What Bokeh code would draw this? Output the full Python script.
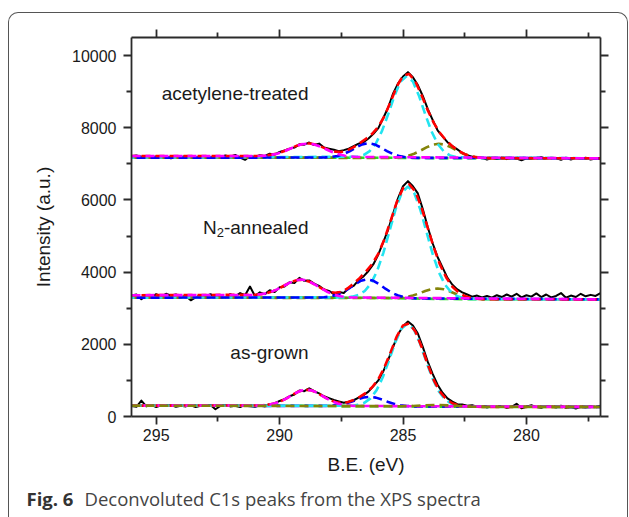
from bokeh.plotting import figure
from bokeh.models import Range1d, LinearAxis, FixedTicker, Label, InlineStyleSheet
from bokeh.core.properties import value
from bokeh.embed import file_html
from bokeh.resources import INLINE

# ---------------- axes ----------------
x_ticks = [295, 290, 285, 280]
x_minor = [292.5, 287.5, 282.5, 277.5]
y_ticks = [0, 2000, 4000, 6000, 8000, 10000]
y_minor = [1000, 3000, 5000, 7000, 9000]

labels = ["acetylene-treated", "N", "2", "-annealed", "as-grown"]
caption_bold = "Fig. 6"
caption_text = "Deconvoluted C1s peaks from the XPS spectra"

# ---------------- measured spectra (black) ----------------
be = [296.0, 295.8, 295.6, 295.4, 295.2, 295.0, 294.8, 294.6, 294.4, 294.2,
      294.0, 293.8, 293.6, 293.4, 293.2, 293.0, 292.8, 292.6, 292.4, 292.2,
      292.0, 291.8, 291.6, 291.4, 291.2, 291.0, 290.8, 290.6, 290.4, 290.2,
      290.0, 289.8, 289.6, 289.4, 289.2, 289.0, 288.8, 288.6, 288.4, 288.2,
      288.0, 287.8, 287.6, 287.4, 287.2, 287.0, 286.8, 286.6, 286.4, 286.2,
      286.0, 285.8, 285.6, 285.4, 285.2, 285.0, 284.8, 284.6, 284.4, 284.2,
      284.0, 283.8, 283.6, 283.4, 283.2, 283.0, 282.8, 282.6, 282.4, 282.2,
      282.0, 281.8, 281.6, 281.4, 281.2, 281.0, 280.8, 280.6, 280.4, 280.2,
      280.0, 279.8, 279.6, 279.4, 279.2, 279.0, 278.8, 278.6, 278.4, 278.2,
      278.0, 277.8, 277.6, 277.4, 277.2, 277.0]

ac_data = [7210, 7230, 7195, 7220, 7185, 7205, 7170, 7215, 7150, 7205,
           7180, 7215, 7170, 7190, 7165, 7200, 7175, 7210, 7180, 7230,
           7195, 7245, 7170, 7110, 7215, 7190, 7240, 7220, 7280, 7255,
           7330, 7370, 7420, 7450, 7540, 7530, 7590, 7520, 7560, 7450,
           7420, 7390, 7350, 7380, 7420, 7490, 7560, 7600, 7700, 7830,
           7990, 8270, 8560, 8950, 9230, 9420, 9540, 9400, 9180, 8880,
           8520, 8220, 7930, 7760, 7600, 7490, 7400, 7300, 7240, 7200,
           7160, 7175, 7120, 7160, 7135, 7170, 7130, 7165, 7145, 7100,
           7150, 7140, 7165, 7185, 7145, 7170, 7160, 7110, 7170, 7120,
           7160, 7135, 7170, 7120, 7150, 7160]

n2_data = [3350, 3380, 3250, 3340, 3300, 3390, 3330, 3400, 3350, 3380,
           3310, 3340, 3220, 3300, 3360, 3330, 3390, 3300, 3350, 3280,
           3390, 3330, 3420, 3360, 3600, 3340, 3440, 3390, 3500, 3450,
           3580, 3600, 3720, 3700, 3840, 3760, 3770, 3680, 3620, 3520,
           3480, 3390, 3450, 3420, 3560, 3620, 3780, 3880, 4030, 4220,
           4490, 4830, 5180, 5620, 6050, 6380, 6520, 6380, 6180, 5750,
           5250, 4800, 4420, 4130, 3840, 3650, 3520, 3440, 3380, 3320,
           3350, 3300, 3340, 3290, 3360, 3310, 3380, 3320, 3400, 3300,
           3360, 3320, 3410, 3310, 3380, 3300, 3340, 3420, 3290, 3350,
           3310, 3400, 3330, 3370, 3340, 3420]

ag_data = [290, 270, 440, 280, 320, 260, 310, 290, 320, 270,
           300, 280, 310, 260, 300, 290, 320, 200, 290, 310,
           280, 300, 260, 320, 290, 270, 310, 280, 340, 360,
           430, 480, 560, 610, 720, 700, 780, 700, 640, 560,
           510, 460, 420, 380, 410, 450, 520, 590, 690, 840,
           1000, 1250, 1570, 1930, 2280, 2500, 2630, 2520, 2300, 1930,
           1520, 1180, 880, 660, 500, 410, 340, 330, 300, 310,
           270, 290, 250, 280, 260, 290, 240, 270, 350, 230,
           270, 310, 260, 240, 290, 280, 250, 300, 240, 260,
           220, 270, 250, 290, 260, 300]

# ---------------- fitted curves (dashed) ----------------
bg_x = [296, 290, 288, 286.5, 285.5, 284.5, 283.5, 282, 277]
red_x = [296, 291.0, 290.75, 290.5, 290.25, 290.0, 289.75, 289.5, 289.25, 289.0,
         288.75, 288.5, 288.25, 288.0, 287.75, 287.5, 287.25, 287.0, 286.75, 286.5,
         286.25, 286.0, 285.75, 285.5, 285.25, 285.0, 284.75, 284.5, 284.25, 284.0,
         283.75, 283.5, 283.25, 283.0, 282.75, 282.5, 282.25, 282.0, 281.75, 281.5, 277]

# acetylene-treated
ac_green_y = [7172, 7172, 7171, 7170, 7167, 7162, 7158, 7155, 7152]
ac_mag_x = [296, 290.85, 290.6, 290.35, 290.1, 289.85, 289.6, 289.35, 289.1, 288.85,
            288.6, 288.35, 288.1, 287.85, 287.6, 287.35, 287.1, 286.85, 277]
ac_mag_y = [7215, 7218, 7227, 7246, 7282, 7338, 7410, 7485, 7543, 7563,
            7538, 7476, 7398, 7322, 7263, 7224, 7202, 7190, 7152]
ac_blue_x = [296, 288.4, 288.15, 287.9, 287.65, 287.4, 287.15, 286.9, 286.65, 286.4,
             286.15, 285.9, 285.65, 285.4, 285.15, 284.9, 284.65, 284.4, 277]
ac_blue_y = [7172, 7174, 7178, 7190, 7218, 7272, 7355, 7455, 7539, 7572,
             7538, 7453, 7352, 7268, 7213, 7184, 7171, 7166, 7152]
ac_cyan_x = [296, 286.85, 286.6, 286.35, 286.1, 285.85, 285.6, 285.35, 285.1, 284.85,
             284.6, 284.35, 284.1, 283.85, 283.6, 283.35, 283.1, 282.85, 277]
ac_cyan_y = [7172, 7196, 7243, 7354, 7564, 7913, 8377, 8882, 9281, 9432,
             9279, 8878, 8372, 7906, 7556, 7345, 7233, 7185, 7152]
ac_olive_x = [296, 285.55, 285.3, 285.05, 284.8, 284.55, 284.3, 284.05, 283.8, 283.55,
              283.3, 283.05, 282.8, 282.55, 282.3, 282.05, 281.8, 281.55, 277]
ac_olive_y = [7172, 7165, 7172, 7188, 7222, 7280, 7363, 7455, 7529, 7557,
              7529, 7455, 7363, 7279, 7220, 7185, 7168, 7161, 7152]
ac_red_y = [7215, 7216, 7222, 7235, 7262, 7305, 7369, 7446, 7518, 7563,
            7564, 7526, 7457, 7386, 7337, 7329, 7373, 7461, 7575, 7694,
            7832, 8025, 8323, 8723, 9147, 9438, 9490, 9280, 8903, 8487,
            8128, 7853, 7646, 7485, 7360, 7268, 7209, 7178, 7164, 7158, 7152]

# N2-annealed
n2_green_y = [3294, 3294, 3294, 3288, 3280, 3268, 3257, 3249, 3245]
n2_mag_x = [296, 291.1, 290.85, 290.6, 290.35, 290.1, 289.85, 289.6, 289.35, 289.1,
            288.85, 288.6, 288.35, 288.1, 287.85, 287.6, 287.35, 287.1, 277]
n2_mag_y = [3360, 3368, 3380, 3405, 3450, 3521, 3611, 3704, 3774, 3795,
            3756, 3669, 3563, 3464, 3388, 3339, 3312, 3298, 3245]
n2_blue_x = [296, 288.45, 288.2, 287.95, 287.7, 287.45, 287.2, 286.95, 286.7, 286.45,
             286.2, 285.95, 285.7, 285.45, 285.2, 284.95, 284.7, 284.45, 277]
n2_blue_y = [3294, 3297, 3305, 3323, 3364, 3437, 3542, 3663, 3761, 3799,
             3759, 3658, 3534, 3427, 3352, 3306, 3283, 3272, 3245]
n2_cyan_x = [296, 287.3, 287.05, 286.8, 286.55, 286.3, 286.05, 285.8, 285.55, 285.3,
             285.05, 284.8, 284.55, 284.3, 284.05, 283.8, 283.55, 283.3, 283.05, 282.8,
             282.55, 282.3, 277]
n2_cyan_y = [3294, 3300, 3320, 3369, 3477, 3684, 4029, 4527, 5135, 5746,
             6204, 6372, 6198, 5734, 5117, 4504, 4001, 3652, 3441, 3331,
             3280, 3259, 3245]
n2_olive_x = [296, 285.6, 285.35, 285.1, 284.85, 284.6, 284.35, 284.1, 283.85, 283.6,
              283.35, 283.1, 282.85, 282.6, 282.35, 282.1, 281.85, 281.6, 277]
n2_olive_y = [3294, 3283, 3285, 3293, 3314, 3352, 3409, 3475, 3528, 3547,
              3523, 3465, 3394, 3332, 3290, 3266, 3255, 3251, 3245]
n2_red_y = [3360, 3372, 3389, 3424, 3478, 3556, 3650, 3736, 3788, 3783,
            3724, 3631, 3531, 3456, 3427, 3453, 3546, 3680, 3840, 4017,
            4226, 4512, 4918, 5426, 5946, 6325, 6433, 6232, 5787, 5227,
            4674, 4206, 3850, 3596, 3435, 3338, 3286, 3261, 3253, 3249, 3245]

# as-grown
ag_green_y = [300, 300, 290, 286, 283, 277, 272, 268, 265]
ag_mag_x = [296, 290.9, 290.65, 290.4, 290.15, 289.9, 289.65, 289.4, 289.15, 288.9,
            288.65, 288.4, 288.15, 287.9, 287.65, 287.4, 287.15, 286.9, 277]
ag_mag_y = [302, 306, 314, 333, 372, 438, 530, 633, 714, 745,
            712, 628, 522, 428, 361, 320, 300, 292, 265]
ag_blue_x = [296, 288.35, 288.1, 287.85, 287.6, 287.35, 287.1, 286.85, 286.6, 286.35,
             286.1, 285.85, 285.6, 285.35, 285.1, 284.85, 284.6, 284.35, 277]
ag_blue_y = [300, 293, 295, 301, 319, 354, 407, 471, 525, 546,
             523, 468, 402, 347, 311, 291, 282, 278, 265]
ag_cyan_x = [296, 287.07, 286.82, 286.57, 286.32, 286.07, 285.82, 285.57, 285.32, 285.07,
             284.82, 284.57, 284.32, 284.07, 283.82, 283.57, 283.32, 283.07, 282.82, 282.57, 277]
ag_cyan_y = [300, 299, 321, 378, 502, 730, 1087, 1554, 2046, 2428,
             2574, 2426, 2041, 1546, 1077, 718, 488, 362, 303, 279, 265]
ag_olive_x = [296, 285.1, 284.6, 284.1, 283.6, 283.1, 282.6, 282.1, 277]
ag_olive_y = [302, 285, 293, 312, 323, 307, 283, 272, 265]
ag_red_y = [302, 304, 310, 324, 353, 408, 490, 592, 686, 740,
            732, 665, 566, 468, 401, 374, 395, 455, 543, 657,
            810, 1036, 1368, 1790, 2222, 2524, 2577, 2356, 1932, 1441,
            1003, 680, 478, 367, 312, 286, 275, 270, 268, 268, 265]

# ---------------- figure ----------------
FONT = "Liberation Sans"
AX_COLOR = "#2b2b2b"

p = figure(frame_width=469, frame_height=379,
           min_border_left=131, min_border_right=29,
           min_border_top=37, min_border_bottom=101,
           x_range=Range1d(296, 277), y_range=Range1d(0, 10500),
           x_axis_location=None, y_axis_location=None,
           output_backend="svg", toolbar_location=None)
p.outline_line_color = None
p.xgrid.visible = False
p.ygrid.visible = False
p.background_fill_color = "white"
p.border_fill_color = "white"


def make_axis(ticks, minor, show_labels):
    ax = LinearAxis(ticker=FixedTicker(ticks=ticks, minor_ticks=minor))
    ax.axis_line_color = AX_COLOR
    ax.axis_line_width = 1.8
    ax.major_tick_line_color = AX_COLOR
    ax.major_tick_line_width = 1.8
    ax.minor_tick_line_color = AX_COLOR
    ax.minor_tick_line_width = 1.8
    ax.major_tick_in = 0
    ax.major_tick_out = 8
    ax.minor_tick_in = 0
    ax.minor_tick_out = 5
    ax.major_label_text_font = FONT
    ax.major_label_text_font_size = "16px" if show_labels else "0px"
    ax.major_label_text_color = "#1a1a1a"
    if not show_labels:
        ax.major_label_text_alpha = 0
        ax.major_label_standoff = 0
    ax.axis_label_text_font = FONT
    ax.axis_label_text_font_size = "19px"
    ax.axis_label_text_font_style = "normal"
    ax.axis_label_text_color = "#1a1a1a"
    return ax


xb = make_axis(x_ticks, x_minor, True)
xb.axis_label = "B.E. (eV)"
xb.major_label_standoff = 4
xb.axis_label_standoff = 10
p.add_layout(xb, "below")

xt = make_axis(x_ticks, x_minor, False)
p.add_layout(xt, "above")

yl = make_axis(y_ticks, y_minor, True)
yl.axis_label = "Intensity (a.u.)"
yl.major_label_standoff = 7
yl.axis_label_standoff = 15
p.add_layout(yl, "left")

yr = make_axis(y_ticks, y_minor, False)
p.add_layout(yr, "right")

# measured data
for ys in (ac_data, n2_data, ag_data):
    p.line(be, ys, line_color="black", line_width=2, line_join="round")

DASH = "9 5"
W = 2.6
C_RED = "#ff0000"
C_CYAN = "#22e4f0"
C_BLUE = "#0000ff"
C_MAG = "#ff00ff"
C_OLIVE = "#84840a"
C_GREEN = "#22dd22"


def dashed(xs, ys, color, offset=0):
    p.line(xs, ys, line_color=color, line_width=W, line_dash=DASH,
           line_dash_offset=offset)


# acetylene-treated
dashed(bg_x, ac_green_y, C_GREEN, 0)
dashed(ac_olive_x, ac_olive_y, C_OLIVE, 3)
dashed(ac_cyan_x, ac_cyan_y, C_CYAN, 6)
dashed(ac_blue_x, ac_blue_y, C_BLUE, 9)
dashed(red_x, ac_red_y, C_RED, 4)
dashed(ac_mag_x, ac_mag_y, C_MAG, 0)

# N2-annealed
dashed(bg_x, n2_green_y, C_GREEN, 0)
dashed(n2_olive_x, n2_olive_y, C_OLIVE, 3)
dashed(n2_cyan_x, n2_cyan_y, C_CYAN, 6)
dashed(n2_blue_x, n2_blue_y, C_BLUE, 9)
dashed(red_x, n2_red_y, C_RED, 4)
dashed(n2_mag_x, n2_mag_y, C_MAG, 0)

# as-grown
dashed(bg_x, ag_green_y, C_GREEN, 0)
dashed(ag_blue_x, ag_blue_y, C_BLUE, 9)
dashed(ag_cyan_x, ag_cyan_y, C_CYAN, 6)
dashed(red_x, ag_red_y, C_RED, 4)
dashed(ag_mag_x, ag_mag_y, C_MAG, 2)
dashed(ag_olive_x, ag_olive_y, C_OLIVE, 0)

# sample labels
LBL_X = 288.83
txt = dict(text_font=value(FONT), text_color="#1a1a1a",
           text_align="right", text_baseline="alphabetic")
p.text(x=[LBL_X], y=[8955], text=[labels[0]], text_font_size="19px", **txt)
p.text(x=[LBL_X], y=[5233], text=[labels[3]], text_font_size="19px", **txt)
p.text(x=[LBL_X], y=[5233], text=[labels[2]], text_font_size="13px",
       x_offset=-84.5, y_offset=5, **txt)
p.text(x=[LBL_X], y=[5233], text=[labels[1]], text_font_size="19px",
       x_offset=-91.7, **txt)
p.text(x=[LBL_X], y=[1770], text=[labels[4]], text_font_size="19px", **txt)

# caption (placed in side panels so it is not clipped to the frame)
CAP_Y = 498
p.add_layout(Label(x=26, y=CAP_Y, x_units="canvas", y_units="canvas",
                   text=caption_bold, text_font="Open Sans",
                   text_font_style="bold", text_font_size="18.5px",
                   text_color="#333333", text_baseline="alphabetic"), "below")
p.add_layout(Label(x=84, y=CAP_Y, x_units="canvas", y_units="canvas",
                   text=caption_text, text_font="Open Sans",
                   text_font_size="18.5px", text_color="#444444",
                   text_baseline="alphabetic"), "above")

# rounded panel border around the figure (CSS, no layout effect)
p.stylesheets = [InlineStyleSheet(css="""
:host::after {
  content: "";
  position: absolute;
  left: 8px; top: 12px;
  width: 620px; height: 505px;
  border: 1.4px solid #555555;
  border-bottom: none;
  border-radius: 10px 10px 0 0;
  box-sizing: border-box;
  pointer-events: none;
  z-index: 100;
}
""")]

open("out.html", "w").write(file_html(p, INLINE))
